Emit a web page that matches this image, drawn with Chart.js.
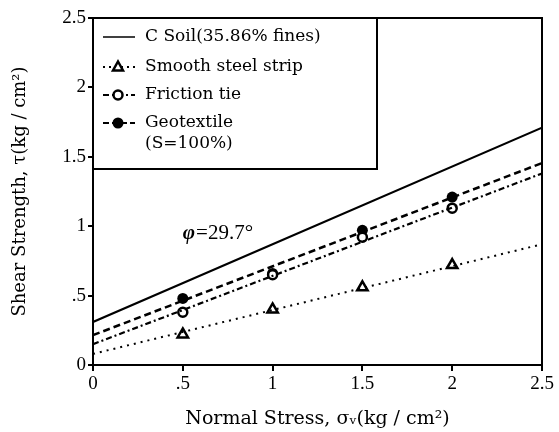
<!DOCTYPE html>
<html lang="en">
<head>
    <meta charset="UTF-8">
    <script src="https://cdn.jsdelivr.net/npm/chart.js"></script>
    <title>Shear Strength vs Normal Stress</title>
    <style>
        body { margin: 0; background: #fff; }
        #wrap { width: 559px; height: 432px; }
    </style>
</head>
<body>
    <div id="wrap"><canvas id="chart" width="559" height="432"></canvas></div>
    <script>
        // measured points (normal stress, shear strength) in kg/cm2
        const stress = [0.5, 1.0, 1.5, 2.0];
        const smoothStrip = [0.22, 0.40, 0.56, 0.72];
        const frictionTie = [0.38, 0.65, 0.92, 1.13];
        const geotextile = [0.48, 0.66, 0.97, 1.21];

        // fitted lines, end values at sigma = 0 and sigma = 2.5
        const lineX = [0, 2.5];
        const soilLine = [0.31, 1.71];
        const stripLine = [0.08, 0.87];
        const tieLine = [0.15, 1.38];
        const geoLine = [0.215, 1.455];

        const tickValues = [0, 0.5, 1, 1.5, 2, 2.5];
        const legendLabels = ['C Soil(35.86% fines)', 'Smooth steel strip', 'Friction tie', ['Geotextile', '(S=100%)']];
        const phiText = '=29.7°';
        const phiAt = [0.5, 0.95];

        const serif = '"DejaVu Serif", "Liberation Serif", serif';

        function pts(xs, ys) {
            return xs.map((x, i) => ({ x: x, y: ys[i] }));
        }

        function tickLabel(v) {
            if (v === 0) return '0';
            return String(v).replace(/^0\./, '.');
        }

        function marker(ctx, style, x, y) {
            ctx.save();
            ctx.setLineDash([]);
            ctx.lineWidth = 2.5;
            ctx.strokeStyle = '#000';
            if (style === 'triangle') {
                ctx.fillStyle = '#fff';
                ctx.beginPath();
                ctx.moveTo(x, y - 5.5);
                ctx.lineTo(x + 5, y + 3.5);
                ctx.lineTo(x - 5, y + 3.5);
                ctx.closePath();
                ctx.fill();
                ctx.stroke();
            } else if (style === 'open') {
                ctx.fillStyle = '#fff';
                ctx.beginPath();
                ctx.arc(x, y, 4.5, 0, Math.PI * 2);
                ctx.fill();
                ctx.stroke();
            } else if (style === 'filled') {
                ctx.fillStyle = '#000';
                ctx.beginPath();
                ctx.arc(x, y, 5.5, 0, Math.PI * 2);
                ctx.fill();
            }
            ctx.restore();
        }

        // frame, legend box and phi note
        const extras = {
            id: 'extras',
            afterDatasetsDraw(chart) {
                const ctx = chart.ctx;
                const a = chart.chartArea;
                const xs = chart.scales.x, ys = chart.scales.y;

                ctx.save();
                ctx.strokeStyle = '#000';
                ctx.lineWidth = 2;
                ctx.strokeRect(a.left, a.top, a.right - a.left, a.bottom - a.top);

                // legend
                const bx = a.left, by = a.top, bw = 284, bh = 151;
                ctx.fillStyle = '#fff';
                ctx.fillRect(bx, by, bw, bh);
                ctx.strokeRect(bx, by, bw, bh);

                const rows = [19, 49, 77, 105];
                const dashes = [[], [2, 4], [6, 3, 2, 3], [6, 3]];
                const marks = [null, 'triangle', 'open', 'filled'];
                ctx.font = '17px ' + serif;
                ctx.textBaseline = 'middle';
                rows.forEach((r, i) => {
                    const y = by + r;
                    ctx.save();
                    ctx.lineWidth = i === 0 ? 1.5 : 2;
                    ctx.setLineDash(dashes[i]);
                    ctx.beginPath();
                    ctx.moveTo(bx + 10, y);
                    ctx.lineTo(bx + 42, y);
                    ctx.stroke();
                    ctx.restore();
                    if (marks[i]) marker(ctx, marks[i], bx + 25, y);
                    ctx.fillStyle = '#000';
                    const lab = legendLabels[i];
                    if (Array.isArray(lab)) {
                        lab.forEach((t, k) => ctx.fillText(t, bx + 52, y + k * 21));
                    } else {
                        ctx.fillText(lab, bx + 52, y);
                    }
                });

                // phi annotation
                const px = xs.getPixelForValue(phiAt[0]);
                const py = ys.getPixelForValue(phiAt[1]);
                ctx.fillStyle = '#000';
                ctx.textBaseline = 'middle';
                ctx.font = 'italic bold 21px "Liberation Serif", serif';
                ctx.fillText('\u03C6', px, py);
                const w = ctx.measureText('\u03C6').width;
                ctx.font = '21px "Liberation Serif", serif';
                ctx.fillText(phiText, px + w + 1, py);
                ctx.restore();
            }
        };

        const ctx = document.getElementById('chart');
        new Chart(ctx, {
            type: 'scatter',
            data: {
                datasets: [{
                    data: pts(lineX, soilLine),
                    showLine: true, borderColor: '#000', borderWidth: 2.2, pointRadius: 0
                }, {
                    data: pts(lineX, stripLine),
                    showLine: true, borderColor: '#000', borderWidth: 2, borderDash: [2, 5], pointRadius: 0
                }, {
                    data: pts(lineX, tieLine),
                    showLine: true, borderColor: '#000', borderWidth: 2.2, borderDash: [6, 3, 2, 3], pointRadius: 0
                }, {
                    data: pts(lineX, geoLine),
                    showLine: true, borderColor: '#000', borderWidth: 2.5, borderDash: [7, 4], pointRadius: 0
                }, {
                    data: pts(stress, smoothStrip),
                    pointStyle: 'triangle', pointRadius: 6, borderWidth: 2.5,
                    borderColor: '#000', backgroundColor: '#fff'
                }, {
                    data: pts(stress, frictionTie),
                    pointStyle: 'circle', pointRadius: 4.5, borderWidth: 2.5,
                    borderColor: '#000', backgroundColor: '#fff'
                }, {
                    data: pts(stress, geotextile),
                    pointStyle: 'circle', pointRadius: 5.5, borderWidth: 0,
                    borderColor: '#000', backgroundColor: '#000'
                }]
            },
            options: {
                responsive: false,
                animation: false,
                layout: { padding: { top: 18, right: 17, left: 0, bottom: 0 } },
                plugins: { legend: { display: false }, tooltip: { enabled: false } },
                scales: {
                    x: {
                        type: 'linear', min: 0, max: 2.5,
                        afterFit: s => { s.height = 67; },
                        afterBuildTicks: s => { s.ticks = tickValues.map(v => ({ value: v })); },
                        border: { display: false },
                        grid: { drawOnChartArea: false, color: '#000', lineWidth: 2, tickLength: 6 },
                        ticks: {
                            color: '#000', padding: 2,
                            font: { family: '"Liberation Serif", serif', size: 19 },
                            callback: v => tickLabel(v)
                        },
                        title: {
                            display: true, text: 'Normal Stress, \u03C3\u1D65(kg / cm\u00B2)', color: '#000',
                            font: { family: serif, size: 19 }, padding: { top: 0, bottom: 2 }
                        }
                    },
                    y: {
                        type: 'linear', min: 0, max: 2.5,
                        afterFit: s => { s.width = 93; },
                        afterBuildTicks: s => { s.ticks = tickValues.map(v => ({ value: v })); },
                        border: { display: false },
                        grid: { drawOnChartArea: false, color: '#000', lineWidth: 2, tickLength: 5 },
                        ticks: {
                            color: '#000', padding: 2,
                            font: { family: '"Liberation Serif", serif', size: 19 },
                            callback: v => tickLabel(v)
                        },
                        title: {
                            display: true, text: 'Shear Strength, \u03C4(kg / cm\u00B2)', color: '#000',
                            font: { family: serif, size: 18 }, padding: { top: 10, bottom: 0 }
                        }
                    }
                }
            },
            plugins: [extras]
        });
    </script>
</body>
</html>
